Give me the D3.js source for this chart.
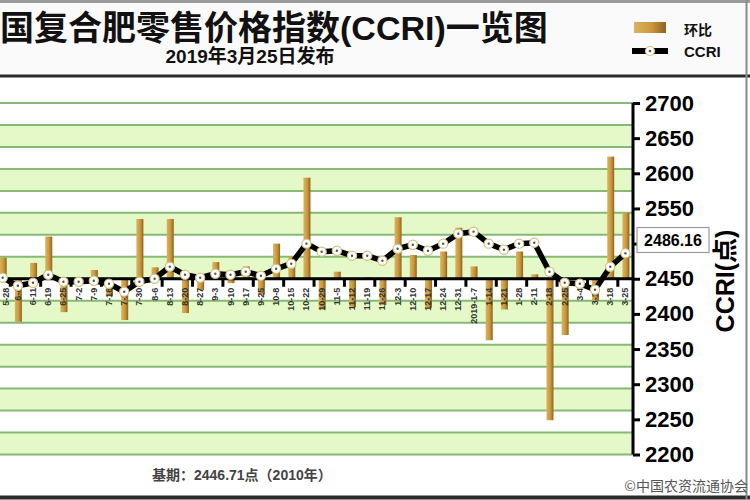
<!DOCTYPE html>
<html><head><meta charset="utf-8">
<script src="https://cdn.jsdelivr.net/npm/d3@7"></script>
<style>
html,body{margin:0;padding:0;background:#fff;}
svg{display:block;}
</style></head>
<body>
<svg id="c" width="750" height="500"></svg>
<script>
const labels = ["5-28","6-4","6-11","6-19","6-25","7-2","7-9","7-16","7-23","7-30","8-6","8-13","8-20","8-27","9-3","9-10","9-17","9-25","10-8","10-15","10-22","10-29","11-5","11-12","11-19","11-26","12-3","12-10","12-17","12-24","12-31","2019-1-7","1-14","1-21","1-28","2-11","2-18","2-25","3-4","3-11","3-18","3-25"];
const ccri = [2451.4,2440.0,2444.3,2455.7,2445.7,2445.7,2447.2,2442.9,2431.5,2445.7,2450.0,2467.1,2455.7,2451.4,2457.1,2455.7,2460.0,2454.3,2464.2,2471.4,2499.9,2488.5,2489.9,2482.8,2482.8,2475.6,2492.7,2498.4,2489.9,2499.9,2514.1,2517.0,2499.9,2491.3,2499.9,2501.3,2460.0,2444.3,2442.9,2434.3,2467.1,2486.16];
const huanbi = [0.24,-0.49,0.18,0.48,-0.38,0.02,0.10,-0.20,-0.47,0.68,0.13,0.68,-0.39,-0.13,0.19,-0.05,0.14,-0.18,0.40,0.25,1.15,-0.35,0.08,-0.32,0.02,-0.30,0.70,0.27,-0.33,0.31,0.58,0.14,-0.70,-0.35,0.31,0.05,-1.61,-0.64,-0.05,-0.25,1.39,0.75];
const rightTicks = [2200,2250,2300,2350,2400,2450,2500,2550,2600,2650,2700];
const hiddenTick = 2500; // covered by the last-value box in the reference
const leftTicks = [-2,-1.75,-1.5,-1.25,-1,-0.75,-0.5,-0.25,0,0.25,0.5,0.75,1,1.25,1.5,1.75,2];
const titleText = "国复合肥零售价格指数(CCRI)一览图";
const subTitle = "2019年3月25日发布";
const lastLabel = "2486.16";
const baseText = "基期：2446.71点（2010年）";
const credit = "©中国农资流通协会";

const svg = d3.select("#c");
const latin = "'Liberation Sans', Arial, 'Noto Sans CJK SC', sans-serif";
const cjk = "'Noto Sans CJK SC', 'Liberation Sans', sans-serif";

const x = d3.scaleBand().domain(labels).range([-4.9, 633]).padding(0);
const yL = d3.scaleLinear().domain([-2, 2]).range([454.5, 103]);
const yR = d3.scaleLinear().domain([2200, 2700]).range([454.5, 103]);

const defs = svg.append("defs");
const g1 = defs.append("linearGradient").attr("id","barG").attr("x1","0").attr("x2","1").attr("y1","0").attr("y2","0");
g1.append("stop").attr("offset","0").attr("stop-color","#dcb35c");
g1.append("stop").attr("offset","0.55").attr("stop-color","#c9983e");
g1.append("stop").attr("offset","1").attr("stop-color","#8e6220");

// frame
svg.append("rect").attr("x",0).attr("y",0).attr("width",750).attr("height",77).attr("fill","#fafafa");
svg.append("line").attr("x1",0).attr("x2",750).attr("y1",1.5).attr("y2",1.5).attr("stroke","#9a9a9a").attr("stroke-width",3);
svg.append("line").attr("x1",0).attr("x2",750).attr("y1",76).attr("y2",76).attr("stroke","#2a2a2a").attr("stroke-width",3);
svg.append("line").attr("x1",0).attr("x2",750).attr("y1",497.5).attr("y2",497.5).attr("stroke","#2a2a2a").attr("stroke-width",4);
svg.append("line").attr("x1",746.5).attr("x2",746.5).attr("y1",0).attr("y2",500).attr("stroke","#8a8a8a").attr("stroke-width",2);

// title
svg.append("text").attr("x",0).attr("y",40).attr("font-family",latin).attr("font-weight","bold").attr("font-size",34).attr("fill","#111").text(titleText);
svg.append("text").attr("x",250).attr("y",63).attr("text-anchor","middle").attr("font-family",latin).attr("font-weight","bold").attr("font-size",19).attr("fill","#111").text(subTitle);

// legend
const lg = svg.append("g");
lg.append("rect").attr("x",634).attr("y",22).attr("width",32).attr("height",11).attr("fill","url(#barG)");
lg.append("text").attr("x",684).attr("y",35).attr("font-family",cjk).attr("font-weight","bold").attr("font-size",14).attr("fill","#111").text("环比");
lg.append("line").attr("x1",632).attr("x2",668).attr("y1",51).attr("y2",51).attr("stroke","#000").attr("stroke-width",6);
lg.append("circle").attr("cx",650).attr("cy",51).attr("r",4.5).attr("fill","#fff").attr("stroke","#d4c27a").attr("stroke-width",1.2);
lg.append("circle").attr("cx",650).attr("cy",51).attr("r",1.3).attr("fill","#555");
lg.append("text").attr("x",684).attr("y",57).attr("font-family",latin).attr("font-weight","bold").attr("font-size",15).attr("fill","#111").text("CCRI");

// grid bands
const plot = svg.append("g");
for (let i = 0; i < leftTicks.length - 1; i++) {
  if (i % 2 === 0) {
    plot.append("rect").attr("x",0).attr("width",633)
      .attr("y", yL(leftTicks[i+1])).attr("height", yL(leftTicks[i]) - yL(leftTicks[i+1]))
      .attr("fill","#e4f8c8");
  }
}
plot.selectAll("line.grid").data(leftTicks).join("line").attr("class","grid")
  .attr("x1",0).attr("x2",633).attr("y1",d=>yL(d)).attr("y2",d=>yL(d))
  .attr("stroke","#86ba74").attr("stroke-width",2);

// bars
const bw = 7;
plot.selectAll("rect.bar").data(huanbi).join("rect").attr("class","bar")
  .attr("x",(d,i)=>x(labels[i]) + x.bandwidth()/2 - bw/2 + 0.5)
  .attr("width",bw)
  .attr("y",d=>Math.min(yL(d), yL(0)))
  .attr("height",d=>Math.abs(yL(d)-yL(0)))
  .attr("fill","url(#barG)");

// baseline + ticks
plot.append("line").attr("x1",0).attr("x2",633).attr("y1",yL(0)).attr("y2",yL(0)).attr("stroke","#000").attr("stroke-width",3);
plot.selectAll("line.xt").data(labels.filter((d,i)=>i%2===1)).join("line").attr("class","xt")
  .attr("x1",d=>x(d)).attr("x2",d=>x(d)).attr("y1",yL(0)).attr("y2",yL(0)+8)
  .attr("stroke","#000").attr("stroke-width",3);

// x labels
plot.selectAll("text.xl").data(labels).join("text").attr("class","xl")
  .attr("transform",d=>`translate(${Math.max(x(d)+x.bandwidth()/2+3, 9)},${yL(0)+9}) rotate(-90)`)
  .attr("text-anchor","end").attr("font-family",latin).attr("font-weight","bold").attr("font-size",9).attr("fill","#333")
  .text(d=>d);

// line
const line = d3.line().x((d,i)=>x(labels[i])+x.bandwidth()/2).y(d=>yR(d));
plot.append("path").attr("d",line(ccri)).attr("fill","none").attr("stroke","#000").attr("stroke-width",5.5).attr("stroke-linejoin","round");
const pts = plot.selectAll("g.pt").data(ccri).join("g").attr("class","pt")
  .attr("transform",(d,i)=>`translate(${x(labels[i])+x.bandwidth()/2},${yR(d)})`);
pts.append("circle").attr("r",4.6).attr("fill","#fff").attr("stroke","#d4c27a").attr("stroke-width",1.2);
pts.append("circle").attr("r",1.2).attr("fill","#555");

// right axis
const ax = svg.append("g").attr("transform","translate(633,0)")
  .call(d3.axisRight(yR).tickValues(rightTicks).tickSize(7).tickPadding(5).tickFormat(d3.format("d")));
ax.select(".domain").attr("stroke","#000").attr("stroke-width",3).attr("d","M0,103V454.5");
ax.selectAll(".tick line").attr("stroke","#000").attr("stroke-width",3);
ax.selectAll(".tick text").attr("font-family",latin).attr("font-weight","bold").attr("font-size",22).attr("fill","#000");
ax.selectAll(".tick").filter(d=>d===hiddenTick).select("text").remove();

// axis title
svg.append("text").attr("transform","translate(734,281) rotate(-90)").attr("text-anchor","middle")
  .attr("font-family",latin).attr("font-weight","bold").attr("font-size",25).attr("fill","#000").text("CCRI(点)");

// last value label
svg.append("rect").attr("x",637).attr("y",227.5).attr("width",72).attr("height",25).attr("fill","#fff").attr("stroke","#9a9a9a").attr("stroke-width",1.2);
svg.append("text").attr("x",673).attr("y",246).attr("text-anchor","middle").attr("font-family",latin).attr("font-weight","bold").attr("font-size",16).attr("fill","#000").text(lastLabel);

// footer
svg.append("text").attr("x",152).attr("y",480).attr("font-family",latin).attr("font-weight","bold").attr("font-size",14).attr("fill","#444").text(baseText);
svg.append("text").attr("x",748).attr("y",491).attr("text-anchor","end").attr("font-family",cjk).attr("font-size",14).attr("fill","#555").text(credit);
</script>
</body></html>
